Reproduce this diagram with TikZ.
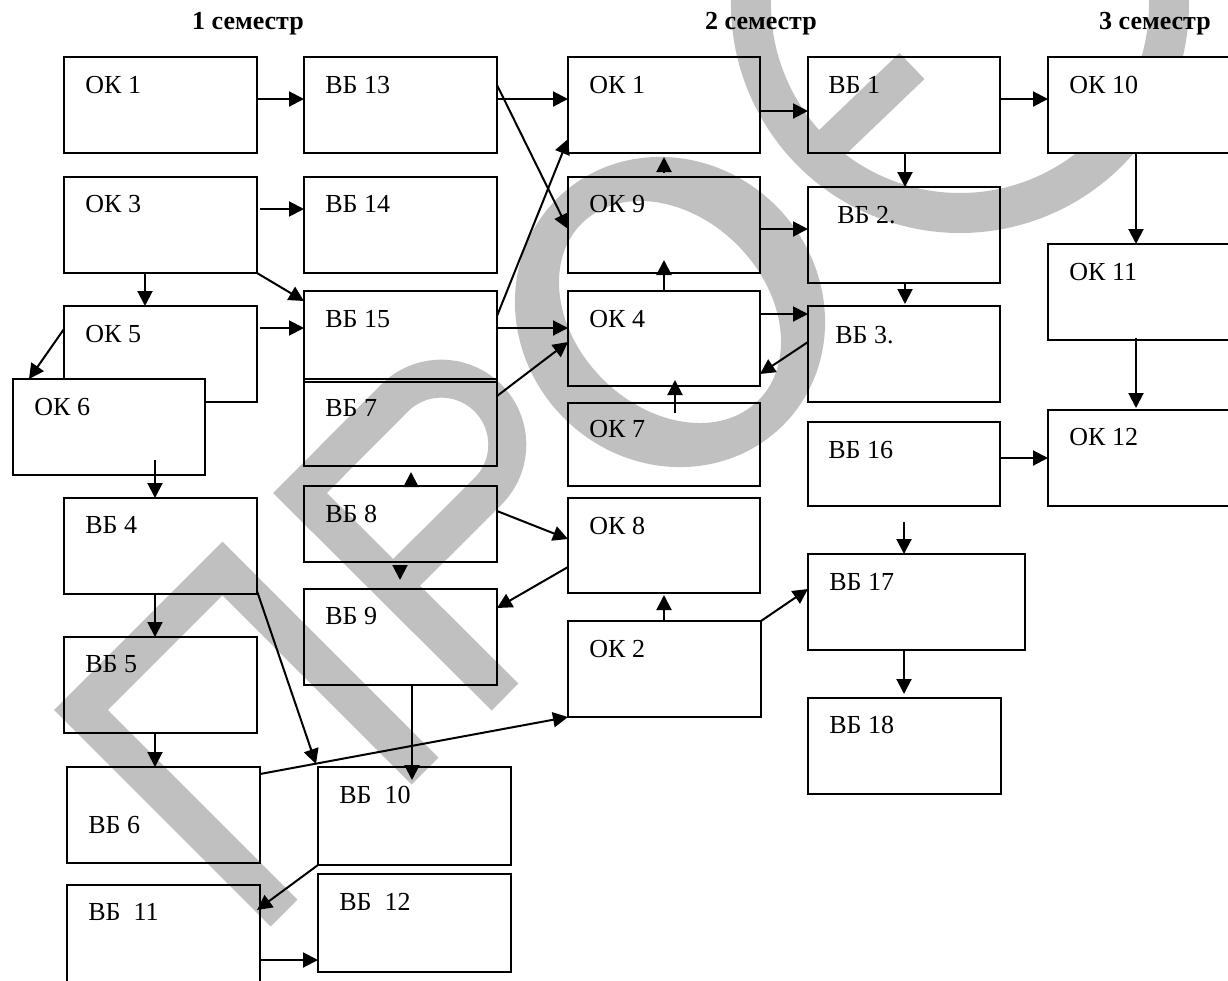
\documentclass[tikz,border=0pt]{standalone}
\usepackage{fontspec}
\setmainfont{Liberation Serif}
\usetikzlibrary{arrows.meta,calc}
\definecolor{wmgray}{RGB}{192,192,192}
\tikzset{
  box/.style={draw, line width=1pt, inner sep=0pt, outer sep=0pt},
  lbl/.style={anchor=base west, inner sep=0pt, font=\fontsize{13pt}{15pt}\selectfont},
  ttl/.style={anchor=base, inner sep=0pt, font=\bfseries\fontsize{13pt}{15pt}\selectfont},
  arr/.style={line width=1pt, -{Triangle[length=7.5pt,width=7.5pt]}},
  wm/.style={wmgray, line width=19pt, line join=miter}
}
% [options]{name}{left}{top}{right}{bottom}{text}{dx}{dy}
\newcommand\bxl[9][]{%
  \node[box, #1, minimum width={(#5-#3)*0.5pt}, minimum height={(#6-#4)*0.5pt}] (#2) at ({(#3+#5)/2},{(#4+#6)/2}) {};
  \node[lbl] (#2t) at ($(#2.north west)+(#8,#9)$) {#7};
}
\begin{document}
\begin{tikzpicture}[x=0.5pt,y=-0.5pt]
\useasboundingbox (0,0) rectangle (1228,981);
% watermark
\draw[wm] (284,913) -- (81,710) -- (222.5,568.5) -- (425,771);
\draw[wm] (505,697) -- (300,493) -- (394.6,398) arc[start angle=225,end angle=405,radius=66] -- (393,586);
\fill[wmgray, even odd rule, rotate around={-45:(670,312)}] (670,312) ellipse[x radius=160,y radius=150] (670,312) ellipse[x radius=125,y radius=95];
\draw[wm, line width=20pt] (960,4) ++(200:209) arc[start angle=200,end angle=-5,radius=209];
\draw[wm, line width=18pt] (817,157) -- (912,66);
% titles
\node[ttl] (t1) at (248,29) {1 семестр};
\node[ttl] (t2) at (761,29) {2 семестр};
\node[ttl] (t3) at (1155,29) {3 семестр};
% boxes
\bxl{ok1}{64}{57}{257}{153}{ОК 1}{21}{36}
\bxl{vb13}{304}{57}{497}{153}{ВБ 13}{21}{36}
\bxl{ok3}{64}{177}{257}{273}{ОК 3}{21}{35}
\bxl{vb14}{304}{177}{497}{273}{ВБ 14}{21}{35}
\bxl{ok5}{64}{306}{257}{402}{ОК 5}{21}{36}
\bxl[fill=white]{ok6}{13}{379}{205}{475}{ОК 6}{21}{36}
\bxl{vb15}{304}{291}{497}{382}{ВБ 15}{21}{36}
\bxl{vb7}{304}{379}{497}{466}{ВБ 7}{21}{37}
\bxl{vb8}{304}{486}{497}{562}{ВБ 8}{21}{36}
\bxl{vb9}{304}{589}{497}{685}{ВБ 9}{21}{35}
\bxl{vb4}{64}{498}{257}{594}{ВБ 4}{21}{35}
\bxl{vb5}{64}{637}{257}{733}{ВБ 5}{21}{35}
\bxl{vb6}{67}{767}{260}{863}{ВБ 6}{21}{66}
\bxl{vb10}{318}{767}{511}{865}{ВБ\ \ 10}{21}{36}
\bxl{vb11}{67}{885}{260}{995}{ВБ\ \ 11}{21}{35}
\bxl{vb12}{318}{874}{511}{972}{ВБ\ \ 12}{21}{36}
\bxl{okb1}{568}{57}{760}{153}{ОК 1}{21}{36}
\bxl{ok9}{568}{177}{760}{273}{ОК 9}{21}{35}
\bxl{ok4}{568}{291}{760}{386}{ОК 4}{21}{36}
\bxl{ok7}{568}{403}{760}{486}{ОК 7}{21}{34}
\bxl{ok8}{568}{498}{760}{593}{ОК 8}{21}{36}
\bxl{ok2}{568}{621}{761}{717}{ОК 2}{21}{36}
\bxl{vb1}{808}{57}{1000}{153}{ВБ 1}{20}{36}
\bxl{vb2}{808}{187}{1000}{283}{ВБ 2.}{29}{36}
\bxl{vb3}{808}{306}{1000}{402}{ВБ 3.}{27}{37}
\bxl{vb16}{808}{422}{1000}{506}{ВБ 16}{20}{36}
\bxl{vb17}{808}{554}{1025}{650}{ВБ 17}{21}{36}
\bxl{vb18}{808}{698}{1001}{794}{ВБ 18}{21}{35}
\bxl[fill=white]{ok10}{1048}{57}{1240}{153}{ОК 10}{21}{36}
\bxl{ok11}{1048}{244}{1240}{340}{ОК 11}{21}{36}
\bxl{ok12}{1048}{410}{1240}{506}{ОК 12}{21}{35}
% connectors, column 1
\draw[arr] (ok1.east |- 0,99) -- (vb13.west |- 0,99);
\draw[arr] ($(ok3.east |- 0,209)+(3,0)$) -- (vb14.west |- 0,209);
\draw[arr] (ok3.south -| 145,0) -- (ok5.north -| 145,0);
\draw[arr] (ok3.south east) -- ($(vb15.north west)+(0,10)$);
\draw[arr] ($(ok5.east |- 0,328)+(3,0)$) -- (vb15.west |- 0,328);
\draw[arr] (ok5.west |- 0,329) -- (ok6.north -| 29,0);
\draw[arr] ($(ok6.south -| 155,0)+(0,-15)$) -- (vb4.north -| 155,0);
\draw[arr] (vb4.south -| 155,0) -- (vb5.north -| 155,0);
\draw[arr] (vb5.south -| 155,0) -- (vb6.north -| 155,0);
\draw[arr] ($(vb4.south east)+(0,-3)$) -- ($(vb10.north west)+(-2,-3)$);
\draw[arr] ($(vb6.north east)+(0,7)$) -- (ok2.south west);
\draw[arr] (vb9.south -| 412,0) -- ($(vb10.north -| 412,0)+(0,13)$);
\draw[arr] (vb10.south west) -- ($(vb11.north east)+(-3,25)$);
\draw[arr] (vb11.east |- 0,960) -- (vb12.west |- 0,960);
% column 2
\draw[arr] (vb13.east |- 0,99) -- (okb1.west |- 0,99);
\draw[arr] ($(vb13.north east)+(0,28)$) -- (ok9.west |- 0,229);
\draw[arr] (vb15.east |- 0,316) -- (okb1.west |- 0,139);
\draw[arr] (vb15.east |- 0,328) -- (ok4.west |- 0,328);
\draw[arr] (vb7.east |- 0,396) -- (ok4.west |- 0,342);
\draw[arr] (vb8.north -| 411,0) -- ($(vb7.south -| 411,0)+(0,6)$);
\draw[arr] ($(vb8.south -| 400,0)+(0,3)$) -- ($(vb9.north -| 400,0)+(0,-9)$);
\draw[arr] (vb8.east |- 0,511) -- (ok8.west |- 0,539);
\draw[arr] (ok8.west |- 0,567) -- (vb9.east |- 0,608);
% column 3
\draw[arr] ($(ok9.north -| 664,0)+(0,-5)$) -- ($(okb1.south -| 664,0)+(0,4)$);
\draw[arr] (ok4.north -| 664,0) -- ($(ok9.south -| 664,0)+(0,-13)$);
\draw[arr] ($(ok7.north -| 675,0)+(0,10)$) -- ($(ok4.south -| 675,0)+(0,-6)$);
\draw[arr] (ok2.north -| 664,0) -- ($(ok8.south -| 664,0)+(0,2)$);
\draw[arr] (okb1.east |- 0,111) -- (vb1.west |- 0,111);
\draw[arr] (ok9.east |- 0,229) -- (vb2.west |- 0,229);
\draw[arr] (ok4.east |- 0,314) -- (vb3.west |- 0,314);
\draw[arr] (vb3.west |- 0,342) -- (ok4.east |- 0,374);
\draw[arr] (ok2.north east) -- (vb17.west |- 0,589);
% column 4 and 5
\draw[arr] (vb1.south -| 905,0) -- (vb2.north -| 905,0);
\draw[arr] (vb2.south -| 905,0) -- ($(vb3.north -| 905,0)+(0,-2)$);
\draw[arr] (vb1.east |- 0,99) -- (ok10.west |- 0,99);
\draw[arr] (ok10.south -| 1136,0) -- (ok11.north -| 1136,0);
\draw[arr] ($(ok11.south -| 1136,0)+(0,-2)$) -- ($(ok12.north -| 1136,0)+(0,-2)$);
\draw[arr] (vb16.east |- 0,458) -- (ok12.west |- 0,458);
\draw[arr] ($(vb16.south -| 904,0)+(0,16)$) -- (vb17.north -| 904,0);
\draw[arr] (vb17.south -| 904,0) -- ($(vb18.north -| 904,0)+(0,-4)$);
\end{tikzpicture}
\end{document}
